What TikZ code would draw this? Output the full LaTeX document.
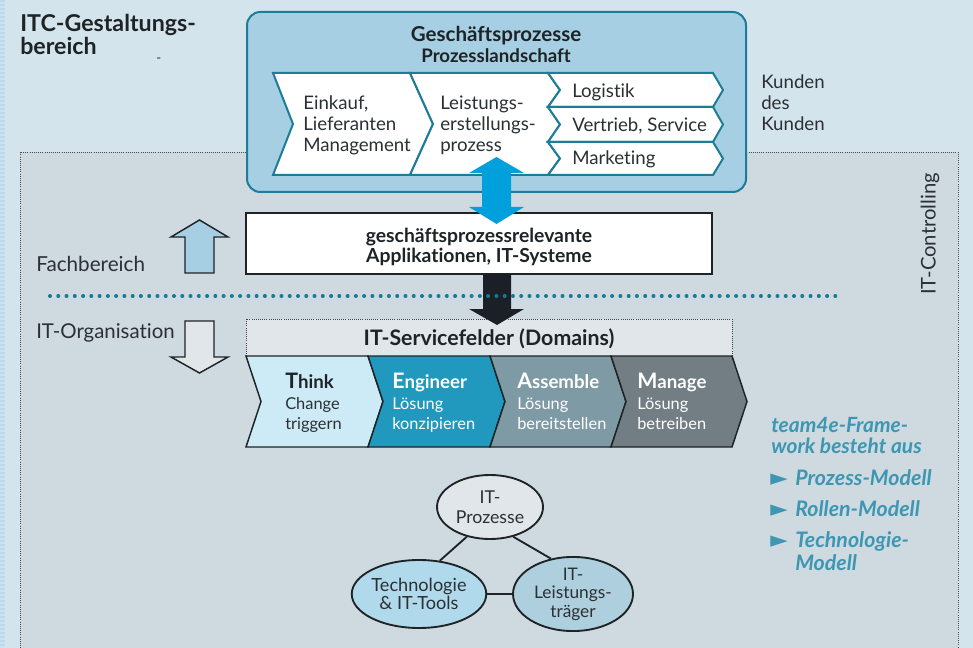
\documentclass[tikz,border=0pt]{standalone}
\usepackage{fontspec}
\setmainfont{Lato}[Ligatures=NoCommon]
\usetikzlibrary{shapes.geometric}
\definecolor{bgtop}{HTML}{D4E4ED}
\definecolor{bgin}{HTML}{CED9E0}
\definecolor{stripA}{HTML}{BCD7EE}
\definecolor{stripB}{HTML}{CCE2F3}
\definecolor{boxblue}{HTML}{A7CFE3}
\definecolor{tealb}{HTML}{1D7C98}
\definecolor{arrblue}{HTML}{00A0DC}
\definecolor{ink}{HTML}{1E2326}
\definecolor{inksoft}{HTML}{2B3034}
\definecolor{thinkc}{HTML}{CDEBF7}
\definecolor{engc}{HTML}{2198BE}
\definecolor{assc}{HTML}{7E9AA5}
\definecolor{manc}{HTML}{727E83}
\definecolor{paleg}{HTML}{E1E6EA}
\definecolor{techc}{HTML}{B0D9EC}
\definecolor{leistc}{HTML}{ADCFDE}
\definecolor{teamc}{HTML}{3D97B2}
\definecolor{dotc}{HTML}{137B94}
\definecolor{blk}{HTML}{1B2026}
\tikzset{
  lbl/.style={inner sep=0pt, anchor=base west, text=inksoft, font=\fontsize{14}{16}\selectfont},
  boldc/.style={inner sep=0pt, anchor=base, text=ink, font=\bfseries\fontsize{14.5}{16}\selectfont},
  chev/.style={draw=tealb, line width=1.5pt, fill=white, line join=miter},
  dom/.style={draw=ink, line width=1.1pt, line join=miter},
  domtitle/.style={inner sep=0pt, anchor=base west, font=\bfseries\fontsize{14}{16}\selectfont},
  domsub/.style={inner sep=0pt, anchor=base west, font=\fontsize{12.3}{14}\selectfont},
  team/.style={inner sep=0pt, anchor=base west, text=teamc, font=\bfseries\itshape\fontsize{16}{18}\selectfont},
  bull/.style={inner sep=0pt, anchor=base west, text=teamc, font=\fontsize{17}{18}\selectfont},
  ell/.style={ellipse, draw=ink, line width=1.4pt, inner sep=0pt, align=center, text=inksoft},
  blockarr/.style={draw=ink, line width=1.1pt, line join=miter},
  link/.style={draw=ink, line width=1.4pt},
}
\newfontfamily\symfont{DejaVu Sans}
\newcommand{\bigfirst}[1]{{\fontsize{16}{16}\selectfont #1}}
\begin{document}
\begin{tikzpicture}[x=0.75pt,y=-0.75pt]
\useasboundingbox (0,0) rectangle (973,648);
\fill[bgtop] (0,0) rectangle (973,648);
\fill[stripB] (0,0) rectangle (5,648);
\foreach \k in {0,4,...,644} \fill[stripA] (0,\k) rectangle (5,\k+2);
\fill[bgin] (20,152) rectangle (958,648);
\draw[densely dotted, line width=0.6pt, draw=black!70] (20,648) -- (20,152) -- (958,152) -- (958,648);

% title top left
\node[inner sep=0pt, anchor=base west, text=ink, font=\bfseries\fontsize{17.4}{18}\selectfont] (itc1) at (20,32) {ITC-Gestaltungs-};
\node[inner sep=0pt, anchor=base west, text=ink, font=\bfseries\fontsize{17.4}{18}\selectfont] (itc2) at (20,55) {bereich};
\node[lbl, font=\fontsize{10}{12}\selectfont] (dash) at (156,63) {-};

% top box
\node[draw=tealb, fill=boxblue, line width=1.5pt, rounded corners=10pt, minimum width=374.25pt, minimum height=135pt, inner sep=0pt] (gp) at (496.5,102) {};
\node[boldc, font=\bfseries\fontsize{15.4}{16}\selectfont] (gpt1) at (496,42) {Geschäftsprozesse};
\node[boldc, font=\bfseries\fontsize{14}{16}\selectfont] (gpt2) at (496,63) {Prozesslandschaft};

% process chevrons
\draw[chev] (273,73) -- (410,73) -- (433,124) -- (410,175) -- (273,175) -- (293,124) -- cycle;
\draw[chev] (410,73) -- (548,73) -- (560,90) -- (548,107) -- (560,124.5) -- (548,142) -- (560,158.5) -- (548,175) -- (410,175) -- (433,124) -- cycle;
\draw[chev] (548,73) -- (713,73) -- (723,90) -- (713,107) -- (548,107) -- (560,90) -- cycle;
\draw[chev] (548,107) -- (713,107) -- (723,124.5) -- (713,142) -- (548,142) -- (560,124.5) -- cycle;
\draw[chev] (548,142) -- (713,142) -- (723,158.5) -- (713,175) -- (548,175) -- (560,158.5) -- cycle;

\node[lbl] (ek1) at (303,110) {Einkauf,};
\node[lbl] (ek2) at (303,131) {Lieferanten};
\node[lbl] (ek3) at (303,152) {Management};
\node[lbl] (le1) at (440,110) {Leistungs-};
\node[lbl] (le2) at (440,131) {erstellungs-};
\node[lbl] (le3) at (440,152) {prozess};
\node[lbl] (log) at (572,98) {Logistik};
\node[lbl] (ver) at (572,132) {Vertrieb, Service};
\node[lbl] (mar) at (572,165) {Marketing};

\node[lbl] (ku1) at (761,89) {Kunden};
\node[lbl] (ku2) at (761,110) {des};
\node[lbl] (ku3) at (761,131) {Kunden};

% application box
\node[draw=ink, fill=white, line width=1.1pt, minimum width=349.5pt, minimum height=45.75pt, inner sep=0pt] (app) at (479,243.5) {};
\node[boldc] (app1) at (479,243) {geschäftsprozessrelevante};
\node[boldc] (app2) at (479,263) {Applikationen, IT-Systeme};

% blue double arrow
\fill[arrblue] (496.5,157) -- (524,173) -- (511,173) -- (511,207) -- (524,207) -- (496.5,224) -- (469,207) -- (482,207) -- (482,173) -- (469,173) -- cycle;

% IT-Servicefelder box
\node[draw=black!75, densely dotted, fill=paleg, line width=0.6pt, minimum width=364.5pt, minimum height=27.75pt, inner sep=0pt] (itsf) at (489,337.5) {};
\node[boldc, font=\bfseries\fontsize{16}{16}\selectfont] (itsft) at (489,345) {IT-Servicefelder (Domains)};

% black arrow
\fill[blk] (483,274) -- (511,274) -- (511,309) -- (524,309) -- (497,325) -- (469,309) -- (483,309) -- cycle;

% dotted separator
\draw[dotc, line width=3pt, line cap=round, dash pattern=on 0pt off 6.2pt] (50,296) -- (838,296);

% domain chevrons
\draw[dom, fill=thinkc] (246,356) -- (368,356) -- (383,401.5) -- (368,447) -- (246,447) -- (261,401.5) -- cycle;
\draw[dom, fill=engc] (368,356) -- (490,356) -- (505,401.5) -- (490,447) -- (368,447) -- (383,401.5) -- cycle;
\draw[dom, fill=assc] (490,356) -- (611,356) -- (626,401.5) -- (611,447) -- (490,447) -- (505,401.5) -- cycle;
\draw[dom, fill=manc] (611,356) -- (732,356) -- (747,401.5) -- (732,447) -- (611,447) -- (626,401.5) -- cycle;

\node[domtitle, text=ink] (th1) at (285,388) {\bigfirst{T}hink};
\node[domsub, text=inksoft] (th2) at (285,409) {Change};
\node[domsub, text=inksoft] (th3) at (285,429) {triggern};
\node[domtitle, text=white] (en1) at (392,388) {\bigfirst{E}ngineer};
\node[domsub, text=white] (en2) at (392,409) {Lösung};
\node[domsub, text=white] (en3) at (392,429) {konzipieren};
\node[domtitle, text=white] (as1) at (517,388) {\bigfirst{A}ssemble};
\node[domsub, text=white] (as2) at (517,409) {Lösung};
\node[domsub, text=white] (as3) at (517,429) {bereitstellen};
\node[domtitle, text=white] (ma1) at (637,388) {\bigfirst{M}anage};
\node[domsub, text=white] (ma2) at (637,409) {Lösung};
\node[domsub, text=white] (ma3) at (637,429) {betreiben};

% side arrows and labels
\draw[blockarr, fill=boxblue] (185,273) -- (214,273) -- (214,237) -- (228,237) -- (199.5,220) -- (171,237) -- (185,237) -- cycle;
\draw[blockarr, fill=paleg] (185,321) -- (214,321) -- (214,357) -- (228,357) -- (199.5,373) -- (171,357) -- (185,357) -- cycle;
\node[lbl, font=\fontsize{15.5}{16}\selectfont] (fb) at (36,272) {Fachbereich};
\node[lbl, font=\fontsize{15.3}{16}\selectfont] (ito) at (36,338) {IT-Organisation};

% IT-Controlling
\node[inner sep=0pt, rotate=90, text=inksoft, font=\fontsize{15.2}{16}\selectfont] (itc) at (930,234) {IT-Controlling};

% team4e text
\node[team, font=\bfseries\itshape\fontsize{15.7}{18}\selectfont] (tm1) at (771,432) {team4e-Frame-};
\node[team, font=\bfseries\itshape\fontsize{15.7}{18}\selectfont] (tm2) at (771,453) {work besteht aus};
\node[bull] (b1) at (770,485) {\symfont ►};
\node[team] (tm3) at (795,485) {Prozess-Modell};
\node[bull] (b2) at (770,516) {\symfont ►};
\node[team] (tm4) at (795,516) {Rollen-Modell};
\node[bull] (b3) at (770,547) {\symfont ►};
\node[team] (tm5) at (795,547) {Technologie-};
\node[team] (tm6) at (795,570) {Modell};

% ellipses
\node[ell, fill=paleg, minimum width=79.5pt, minimum height=48pt, font=\fontsize{13.3}{15}\selectfont] (proz) at (490,507) {IT-\\Prozesse};
\node[ell, fill=techc, minimum width=88.5pt, minimum height=51pt, font=\fontsize{13.6}{13.5}\selectfont] (tech) at (419,594) {Technologie\\\& IT-Tools};
\node[ell, fill=leistc, minimum width=90pt, minimum height=51pt, font=\fontsize{13}{13.8}\selectfont] (leist) at (573,594) {IT-\\Leistungs-\\träger};
\draw[link] (proz.232) -- (tech.58);
\draw[link] (proz.308) -- (leist.122);
\draw[link] (tech.east) -- (leist.west);
\end{tikzpicture}
\end{document}
